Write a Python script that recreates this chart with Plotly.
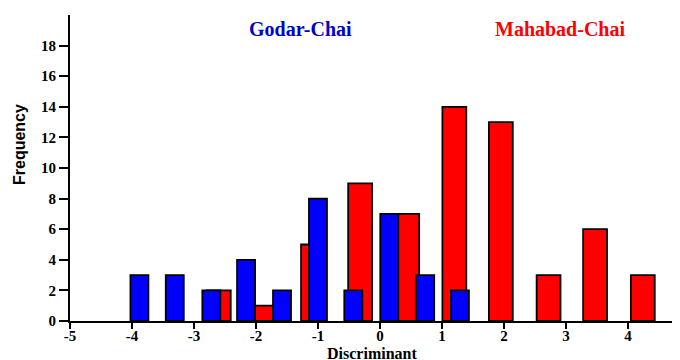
import plotly.graph_objects as go

godar_x = [-3.88, -3.31, -2.72, -2.16, -1.58, -1.0, -0.43, 0.15, 0.73, 1.29]
godar_freq = [3, 3, 2, 4, 2, 8, 2, 7, 3, 2]
mahabad_x = [-2.60, -1.84, -1.08, -0.32, 0.44, 1.20, 1.95, 2.72, 3.47, 4.24]
mahabad_freq = [2, 1, 5, 9, 7, 14, 13, 3, 6, 3]
x_ticks = [-5, -4, -3, -2, -1, 0, 1, 2, 3, 4]
y_ticks = [0, 2, 4, 6, 8, 10, 12, 14, 16, 18]

serif = "Liberation Serif, Times New Roman, serif"
sans = "Liberation Sans, Arial, sans-serif"

OFF = 8  # default page body margin
W, H = 680 - OFF, 360 - OFF
# plot area in page pixels: left 70, top 15, right 680, bottom 321
L, T = 70 - OFF, 15 - OFF
R, B = 0, H - (321 - OFF)
pw, ph = W - L - R, H - T - B

def px(x, y):
    return (x - OFF - L) / pw, (H - B - (y - OFF)) / ph

fig = go.Figure()
fig.add_trace(go.Bar(x=mahabad_x, y=mahabad_freq, width=0.385,
                     marker=dict(color="#FF0000", line=dict(color="black", width=1.8)),
                     name="Mahabad-Chai"))
fig.add_trace(go.Bar(x=godar_x, y=godar_freq, width=0.29,
                     marker=dict(color="#0000FF", line=dict(color="black", width=1.8)),
                     name="Godar-Chai"))

annots = []
for text, x, y, font, rot in [
    ("<b>Godar-Chai</b>", 300, 29, dict(family=serif, size=20, color="#0000CC"), 0),
    ("<b>Mahabad-Chai</b>", 560, 29, dict(family=serif, size=20, color="#FF0000"), 0),
    ("<b>Discriminant</b>", 372, 353, dict(family=serif, size=16, color="black"), 0),
    ("<b>Frequency</b>", 19, 145, dict(family=sans, size=16, color="black"), -90),
]:
    ax, ay = px(x, y)
    annots.append(dict(text=text, x=ax, y=ay, xref="paper", yref="paper", showarrow=False,
                       font=font, textangle=rot, xanchor="center", yanchor="middle"))

fig.update_layout(
    width=W, height=H,
    margin=dict(l=L, r=R, t=T, b=B, autoexpand=False),
    barmode="overlay",
    showlegend=False,
    plot_bgcolor="white", paper_bgcolor="white",
    xaxis=dict(range=[-5, 4.84], tickvals=x_ticks, ticktext=[str(v) for v in x_ticks],
               showgrid=False, zeroline=False, showline=True, linecolor="black", linewidth=2,
               ticks="outside", ticklen=6, tickwidth=2, tickcolor="black", automargin=False,
               ticklabelstandoff=-6,
               tickfont=dict(family=serif, size=15, color="black", weight="bold")),
    yaxis=dict(range=[0, 20], tickvals=y_ticks, ticktext=[str(v) for v in y_ticks],
               showgrid=False, zeroline=False, showline=True, linecolor="black", linewidth=2,
               ticks="outside", ticklen=9, tickwidth=2, tickcolor="black", automargin=False,
               tickfont=dict(family=serif, size=15, color="black", weight="bold")),
    annotations=annots,
)

fig.write_html("out.html")
